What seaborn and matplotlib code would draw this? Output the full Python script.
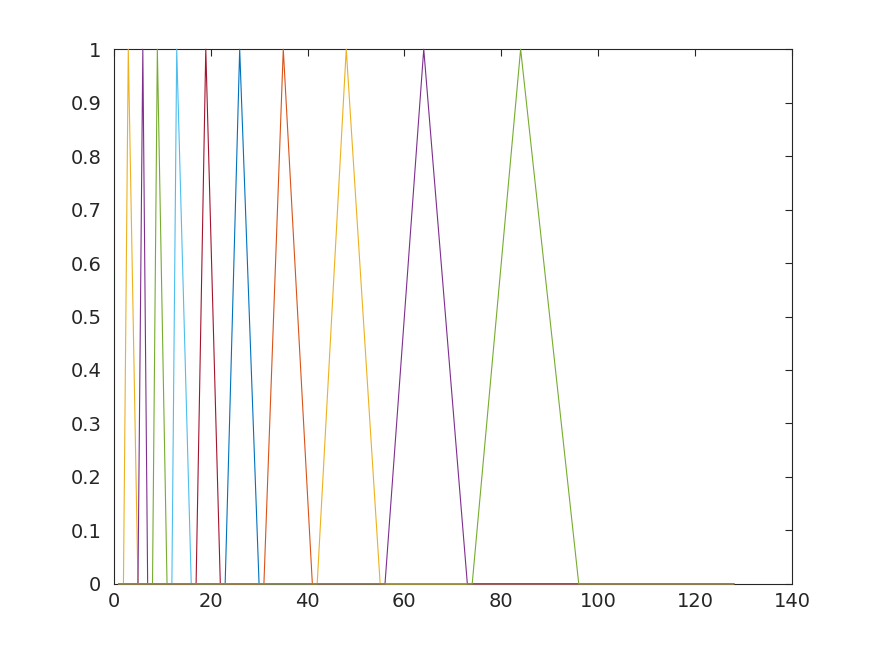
import pandas as pd
import seaborn as sns
import matplotlib
matplotlib.use('Agg')
import matplotlib.pyplot as plt

# Triangle filters: base-left, peak, base-right (bin index)
filter_names = ['f1', 'f2', 'f3', 'f4', 'f5', 'f6', 'f7', 'f8', 'f9', 'f10']
left_bins = [2, 5, 8, 12, 17, 23, 31, 42, 56, 74]
peak_bins = [3, 6, 9, 13, 19, 26, 35, 48, 64, 84]
right_bins = [5, 7, 11, 16, 22, 30, 41, 55, 73, 96]
first_bin = 1
last_bin = 128

filter_colors = ['#EDB120', '#7E2F8E', '#77AC30', '#4DBEEE', '#A2142F',
                 '#0072BD', '#D95319', '#EDB120', '#7E2F8E', '#77AC30']

x_ticks = [0, 20, 40, 60, 80, 100, 120, 140]
y_ticks = [0, 0.1, 0.2, 0.3, 0.4, 0.5, 0.6, 0.7, 0.8, 0.9, 1]
y_tick_labels = ['0', '0.1', '0.2', '0.3', '0.4', '0.5', '0.6', '0.7', '0.8', '0.9', '1']

# vertices of each filter response (zero outside the triangle)
rows = []
for name, l, p, r in zip(filter_names, left_bins, peak_bins, right_bins):
    for order, (b, v) in enumerate([(first_bin, 0), (l, 0), (p, 1), (r, 0), (last_bin, 0)]):
        rows.append({'filter': name, 'order': order, 'bin': b, 'value': v})
df = pd.DataFrame(rows)

sns.set_style('white')
plt.rcParams['font.family'] = ['DejaVu Sans']

fig = plt.figure(figsize=(8.75, 6.56), dpi=100)
ax = fig.add_axes([0.13, 0.11, 0.775, 0.815])

sns.lineplot(data=df, x='bin', y='value', hue='filter', units='filter',
             estimator=None, sort=False, palette=filter_colors,
             hue_order=filter_names, linewidth=0.8, legend=False, ax=ax)
# lines sit on top of the box, as in the original
for ln in ax.get_lines():
    ln.set_zorder(3)
    ln.set_clip_on(False)

ax.set_xlim(0, 140)
ax.set_ylim(0, 1)
ax.set_xticks(x_ticks)
ax.set_xticklabels([str(t) for t in x_ticks])
ax.set_yticks(y_ticks)
ax.set_yticklabels(y_tick_labels)
ax.set_xlabel('')
ax.set_ylabel('')

dark = '#262626'
for s in ax.spines.values():
    s.set_color(dark)
    s.set_linewidth(0.8)
ax.tick_params(direction='in', length=5, width=0.8, colors=dark,
               labelsize=14, top=True, right=True)
ax.tick_params(axis='x', pad=6)
ax.tick_params(axis='y', pad=9)

fig.savefig('out.png', dpi=100)
